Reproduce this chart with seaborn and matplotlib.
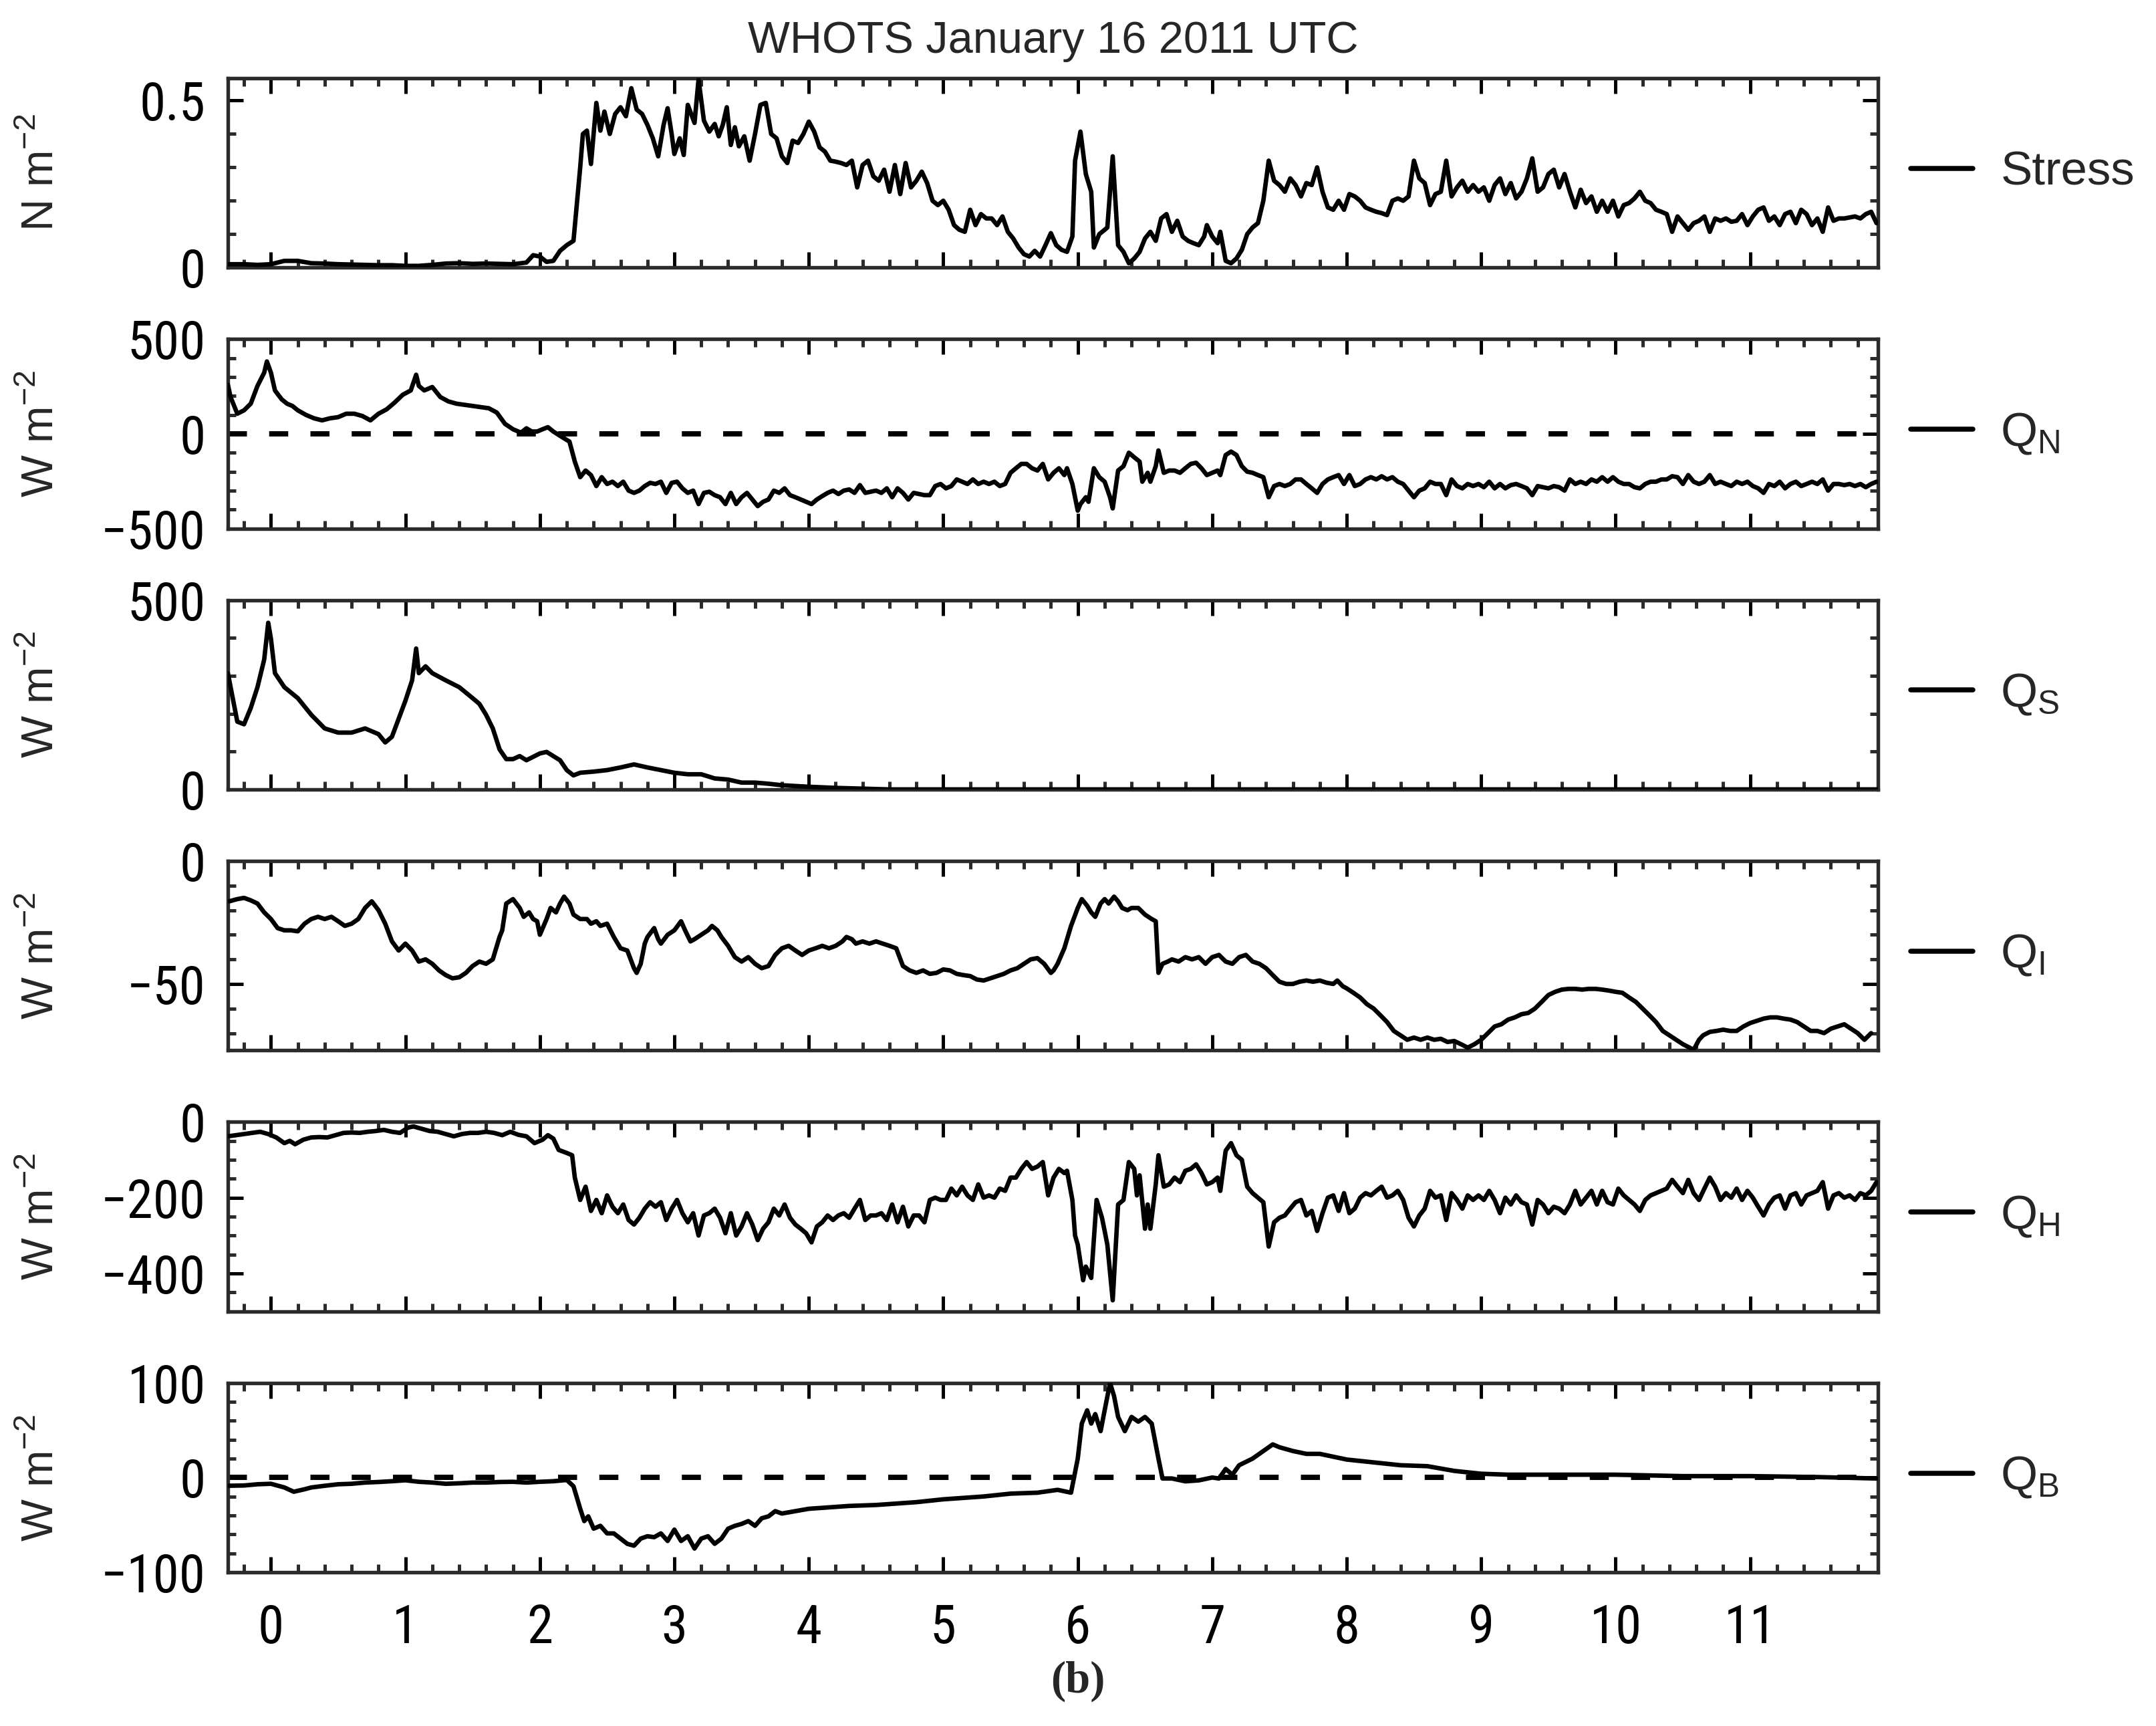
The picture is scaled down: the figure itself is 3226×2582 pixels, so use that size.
import matplotlib
matplotlib.use("Agg")
import matplotlib.pyplot as plt
from matplotlib import font_manager
import seaborn as sns
from matplotlib.ticker import MultipleLocator, FixedLocator

# values, (hour, value)
STRESS = [(-0.32, 0.010), (-0.2, 0.010), (-0.1, 0.008), (0.0, 0.010), (0.1, 0.020), (0.2, 0.020), (0.3, 0.013),
          (0.4, 0.012), (0.5, 0.010), (0.6, 0.009), (0.7, 0.008), (0.8, 0.007), (0.9, 0.007), (1.0, 0.005),
          (1.1, 0.005), (1.2, 0.008), (1.3, 0.012), (1.4, 0.013), (1.5, 0.011), (1.6, 0.012), (1.7, 0.011),
          (1.8, 0.010), (1.9, 0.015), (1.95, 0.037), (2.0, 0.033), (2.05, 0.017), (2.1, 0.020), (2.15, 0.050),
          (2.2, 0.067), (2.25, 0.080), (2.3, 0.300), (2.32, 0.400), (2.35, 0.410), (2.38, 0.310), (2.42, 0.493),
          (2.45, 0.410), (2.48, 0.467), (2.52, 0.400), (2.56, 0.460), (2.6, 0.480), (2.64, 0.453), (2.68, 0.537),
          (2.72, 0.473), (2.76, 0.460), (2.8, 0.427), (2.84, 0.387), (2.88, 0.333), (2.92, 0.427), (2.95, 0.477),
          (2.98, 0.400), (3.0, 0.340), (3.04, 0.387), (3.07, 0.337), (3.1, 0.487), (3.15, 0.433), (3.18, 0.563),
          (3.22, 0.440), (3.26, 0.407), (3.3, 0.430), (3.33, 0.393), (3.36, 0.427), (3.39, 0.480), (3.42, 0.367),
          (3.45, 0.420), (3.48, 0.363), (3.52, 0.393), (3.56, 0.320), (3.6, 0.400), (3.64, 0.487), (3.68, 0.493),
          (3.72, 0.400), (3.76, 0.387), (3.8, 0.333), (3.84, 0.313), (3.88, 0.380), (3.92, 0.373), (3.96, 0.400),
          (4.0, 0.437), (4.04, 0.407), (4.08, 0.360), (4.12, 0.347), (4.16, 0.320), (4.2, 0.317), (4.24, 0.313),
          (4.28, 0.307), (4.32, 0.320), (4.36, 0.240), (4.4, 0.307), (4.44, 0.320), (4.48, 0.273), (4.52, 0.260),
          (4.56, 0.293), (4.6, 0.227), (4.64, 0.307), (4.68, 0.220), (4.72, 0.313), (4.76, 0.240), (4.8, 0.260),
          (4.84, 0.287), (4.88, 0.253), (4.92, 0.200), (4.96, 0.187), (5.0, 0.200), (5.04, 0.173), (5.08, 0.127),
          (5.12, 0.113), (5.16, 0.107), (5.2, 0.173), (5.24, 0.127), (5.28, 0.160), (5.32, 0.147), (5.36, 0.147),
          (5.4, 0.127), (5.44, 0.153), (5.48, 0.107), (5.52, 0.087), (5.56, 0.060), (5.6, 0.040), (5.64, 0.033),
          (5.68, 0.050), (5.72, 0.033), (5.76, 0.067), (5.8, 0.103), (5.84, 0.067), (5.88, 0.053), (5.92, 0.047),
          (5.96, 0.093), (5.98, 0.320), (6.02, 0.407), (6.06, 0.280), (6.1, 0.227), (6.12, 0.060), (6.16, 0.100),
          (6.2, 0.113), (6.22, 0.120), (6.26, 0.333), (6.3, 0.067), (6.34, 0.047), (6.38, 0.013), (6.42, 0.027),
          (6.46, 0.047), (6.5, 0.087), (6.54, 0.107), (6.58, 0.080), (6.62, 0.147), (6.66, 0.160), (6.7, 0.107),
          (6.74, 0.140), (6.78, 0.093), (6.82, 0.080), (6.86, 0.073), (6.9, 0.067), (6.94, 0.093), (6.96, 0.127),
          (7.0, 0.093), (7.04, 0.073), (7.06, 0.107), (7.1, 0.020), (7.14, 0.013), (7.18, 0.027), (7.22, 0.053),
          (7.26, 0.100), (7.3, 0.120), (7.34, 0.133), (7.38, 0.200), (7.42, 0.320), (7.46, 0.260), (7.5, 0.247),
          (7.54, 0.227), (7.58, 0.267), (7.62, 0.247), (7.66, 0.213), (7.7, 0.253), (7.74, 0.247), (7.78, 0.300),
          (7.82, 0.227), (7.86, 0.180), (7.9, 0.173), (7.94, 0.200), (7.98, 0.173), (8.02, 0.220), (8.06, 0.213),
          (8.1, 0.200), (8.14, 0.180), (8.18, 0.173), (8.22, 0.167), (8.26, 0.163), (8.3, 0.157), (8.34, 0.200),
          (8.38, 0.207), (8.42, 0.200), (8.46, 0.213), (8.5, 0.320), (8.54, 0.267), (8.58, 0.253), (8.62, 0.187),
          (8.66, 0.220), (8.7, 0.227), (8.74, 0.320), (8.78, 0.213), (8.82, 0.240), (8.86, 0.260), (8.9, 0.227),
          (8.94, 0.247), (8.98, 0.227), (9.02, 0.240), (9.06, 0.200), (9.1, 0.247), (9.14, 0.267), (9.18, 0.220),
          (9.22, 0.253), (9.26, 0.207), (9.3, 0.227), (9.34, 0.267), (9.38, 0.327), (9.42, 0.227), (9.46, 0.240),
          (9.5, 0.280), (9.54, 0.293), (9.58, 0.240), (9.62, 0.280), (9.66, 0.227), (9.7, 0.180), (9.74, 0.233),
          (9.78, 0.193), (9.82, 0.213), (9.86, 0.167), (9.9, 0.200), (9.94, 0.167), (9.98, 0.200), (10.02, 0.153),
          (10.06, 0.187), (10.1, 0.193), (10.14, 0.207), (10.18, 0.227), (10.22, 0.200), (10.26, 0.193),
          (10.3, 0.173), (10.34, 0.167), (10.38, 0.160), (10.42, 0.107), (10.46, 0.153), (10.5, 0.133),
          (10.54, 0.113), (10.58, 0.133), (10.62, 0.140), (10.66, 0.153), (10.7, 0.107), (10.74, 0.147),
          (10.78, 0.140), (10.82, 0.147), (10.86, 0.137), (10.9, 0.140), (10.94, 0.160), (10.98, 0.127),
          (11.02, 0.153), (11.06, 0.173), (11.1, 0.180), (11.14, 0.140), (11.18, 0.153), (11.22, 0.127),
          (11.26, 0.160), (11.3, 0.167), (11.34, 0.133), (11.38, 0.173), (11.42, 0.160), (11.46, 0.127),
          (11.5, 0.147), (11.54, 0.107), (11.58, 0.180), (11.62, 0.140), (11.66, 0.147), (11.7, 0.147),
          (11.74, 0.150), (11.78, 0.153), (11.82, 0.147), (11.86, 0.160), (11.9, 0.167), (11.94, 0.133)]

QN = [(-0.32, 259), (-0.3, 194), (-0.25, 106), (-0.2, 124), (-0.15, 159), (-0.1, 253), (-0.05, 323), (-0.03, 382),
      (0.0, 323), (0.03, 229), (0.08, 182), (0.12, 159), (0.16, 147), (0.2, 124), (0.26, 100), (0.32, 82),
      (0.38, 71), (0.44, 82), (0.5, 88), (0.56, 106), (0.62, 106), (0.68, 94), (0.74, 71), (0.8, 106), (0.86, 129),
      (0.92, 165), (0.98, 206), (1.04, 229), (1.08, 312), (1.1, 253), (1.14, 229), (1.2, 247), (1.26, 194),
      (1.32, 171), (1.38, 159), (1.44, 153), (1.5, 147), (1.56, 141), (1.62, 135), (1.68, 112), (1.74, 53),
      (1.8, 24), (1.86, 6), (1.9, 29), (1.94, 12), (1.98, 12), (2.02, 24), (2.06, 35), (2.1, 12), (2.14, -6),
      (2.18, -24), (2.22, -41), (2.26, -147), (2.3, -229), (2.34, -194), (2.38, -218), (2.42, -276), (2.46, -229),
      (2.5, -265), (2.54, -253), (2.58, -276), (2.62, -253), (2.66, -300), (2.7, -312), (2.74, -300), (2.78, -276),
      (2.82, -259), (2.86, -265), (2.9, -253), (2.94, -312), (2.98, -259), (3.02, -253), (3.06, -288), (3.1, -312),
      (3.14, -300), (3.18, -371), (3.22, -312), (3.26, -306), (3.3, -324), (3.34, -335), (3.38, -371), (3.42, -312),
      (3.46, -371), (3.5, -335), (3.54, -312), (3.58, -347), (3.62, -382), (3.66, -359), (3.7, -347), (3.74, -300),
      (3.78, -312), (3.82, -288), (3.86, -324), (3.9, -335), (3.94, -347), (3.98, -359), (4.02, -371), (4.06, -347),
      (4.1, -329), (4.14, -312), (4.18, -300), (4.22, -318), (4.26, -300), (4.3, -294), (4.34, -312), (4.38, -271),
      (4.42, -312), (4.46, -306), (4.5, -300), (4.54, -312), (4.58, -288), (4.62, -335), (4.66, -288), (4.7, -312),
      (4.74, -347), (4.78, -312), (4.82, -318), (4.86, -324), (4.9, -324), (4.94, -276), (4.98, -265), (5.02, -288),
      (5.06, -276), (5.1, -241), (5.14, -253), (5.18, -265), (5.22, -241), (5.26, -265), (5.3, -253), (5.34, -265),
      (5.38, -253), (5.42, -276), (5.46, -265), (5.5, -206), (5.54, -182), (5.58, -159), (5.62, -159), (5.66, -182),
      (5.7, -194), (5.74, -159), (5.78, -241), (5.82, -206), (5.86, -182), (5.9, -218), (5.92, -182), (5.96, -265),
      (5.98, -335), (6.0, -406), (6.02, -371), (6.06, -335), (6.08, -359), (6.12, -182), (6.16, -229), (6.2, -253),
      (6.24, -335), (6.26, -394), (6.3, -194), (6.34, -171), (6.38, -100), (6.42, -124), (6.46, -147), (6.48, -253),
      (6.52, -206), (6.54, -253), (6.58, -171), (6.6, -88), (6.64, -206), (6.68, -194), (6.72, -194), (6.76, -206),
      (6.8, -182), (6.84, -159), (6.88, -153), (6.92, -182), (6.96, -218), (7.0, -206), (7.04, -194), (7.06, -218),
      (7.1, -112), (7.14, -94), (7.18, -112), (7.22, -171), (7.26, -200), (7.3, -206), (7.34, -218), (7.38, -229),
      (7.42, -335), (7.46, -276), (7.5, -265), (7.54, -276), (7.58, -265), (7.62, -241), (7.66, -241), (7.7, -265),
      (7.74, -288), (7.78, -312), (7.82, -265), (7.86, -241), (7.9, -229), (7.94, -218), (7.98, -265), (8.02, -218),
      (8.06, -276), (8.1, -265), (8.14, -241), (8.18, -229), (8.22, -241), (8.26, -224), (8.3, -241), (8.34, -229),
      (8.38, -253), (8.42, -265), (8.46, -300), (8.5, -335), (8.54, -300), (8.58, -288), (8.62, -253), (8.66, -265),
      (8.7, -265), (8.74, -324), (8.78, -241), (8.82, -276), (8.86, -288), (8.9, -265), (8.94, -276), (8.98, -265),
      (9.02, -282), (9.06, -253), (9.1, -288), (9.14, -265), (9.18, -288), (9.22, -271), (9.26, -265), (9.3, -276),
      (9.34, -288), (9.38, -324), (9.42, -276), (9.46, -282), (9.5, -288), (9.54, -276), (9.58, -282), (9.62, -300),
      (9.66, -241), (9.7, -265), (9.74, -253), (9.78, -265), (9.82, -241), (9.86, -253), (9.9, -229), (9.94, -253),
      (9.98, -229), (10.02, -253), (10.06, -265), (10.1, -265), (10.14, -282), (10.18, -288), (10.22, -265),
      (10.26, -253), (10.3, -253), (10.34, -241), (10.38, -241), (10.42, -224), (10.46, -229), (10.5, -265),
      (10.54, -218), (10.58, -253), (10.62, -265), (10.66, -253), (10.7, -218), (10.74, -265), (10.78, -253),
      (10.82, -265), (10.86, -276), (10.9, -253), (10.94, -265), (10.98, -253), (11.02, -276), (11.06, -288),
      (11.1, -312), (11.14, -265), (11.18, -276), (11.22, -253), (11.26, -288), (11.3, -265), (11.34, -253),
      (11.38, -276), (11.42, -265), (11.46, -253), (11.5, -265), (11.54, -241), (11.58, -300), (11.62, -265),
      (11.66, -265), (11.7, -271), (11.74, -265), (11.78, -276), (11.82, -265), (11.86, -282), (11.9, -265),
      (11.94, -253)]

QS = [(-0.32, 307), (-0.25, 179), (-0.2, 172), (-0.15, 215), (-0.1, 270), (-0.05, 343), (-0.02, 440), (0.0, 398),
      (0.03, 307), (0.1, 270), (0.2, 241), (0.3, 197), (0.4, 161), (0.5, 150), (0.6, 150), (0.7, 161), (0.8, 146),
      (0.85, 124), (0.9, 139), (1.0, 234), (1.05, 288), (1.08, 372), (1.1, 307), (1.15, 325), (1.2, 307),
      (1.3, 288), (1.4, 270), (1.5, 241), (1.55, 226), (1.6, 197), (1.65, 161), (1.7, 106), (1.75, 80), (1.8, 80),
      (1.85, 88), (1.9, 77), (2.0, 95), (2.05, 99), (2.1, 88), (2.15, 77), (2.2, 51), (2.25, 37), (2.3, 44),
      (2.4, 47), (2.5, 51), (2.6, 58), (2.7, 66), (2.8, 58), (2.9, 51), (3.0, 44), (3.1, 40), (3.2, 40), (3.3, 29),
      (3.4, 26), (3.5, 18), (3.6, 18), (3.7, 15), (3.8, 11), (4.0, 7), (4.2, 4), (4.4, 2), (4.6, 0), (5.0, 0),
      (6.0, 0), (7.0, 0), (8.0, 0), (9.0, 0), (10.0, 0), (11.0, 0), (11.95, 0)]

QI = [(-0.31, -16.4), (-0.25, -15.5), (-0.2, -15.0), (-0.15, -16.0), (-0.1, -17.3), (-0.05, -20.9), (0.0, -23.6),
      (0.05, -27.3), (0.1, -28.2), (0.15, -28.2), (0.2, -28.6), (0.25, -25.5), (0.3, -23.6), (0.35, -22.7),
      (0.4, -23.6), (0.45, -22.7), (0.5, -24.5), (0.55, -26.4), (0.6, -25.5), (0.65, -23.6), (0.7, -19.1),
      (0.75, -16.4), (0.8, -20.0), (0.85, -25.5), (0.9, -32.7), (0.95, -36.4), (1.0, -33.6), (1.05, -36.4),
      (1.1, -40.9), (1.15, -40.0), (1.2, -41.8), (1.25, -44.5), (1.3, -46.4), (1.35, -47.7), (1.4, -47.3),
      (1.45, -45.5), (1.5, -42.7), (1.55, -40.9), (1.6, -41.8), (1.65, -40.0), (1.7, -30.9), (1.72, -28.2),
      (1.75, -17.3), (1.8, -15.5), (1.85, -19.1), (1.88, -22.7), (1.92, -20.9), (1.95, -23.6), (1.98, -24.5),
      (2.0, -30.0), (2.05, -23.6), (2.08, -19.1), (2.12, -20.9), (2.15, -17.3), (2.18, -14.5), (2.22, -17.3),
      (2.25, -21.8), (2.3, -23.6), (2.35, -23.6), (2.38, -25.5), (2.42, -24.5), (2.45, -26.4), (2.5, -25.5),
      (2.55, -30.9), (2.6, -35.5), (2.65, -36.4), (2.7, -43.6), (2.72, -45.5), (2.75, -41.8), (2.78, -33.6),
      (2.8, -30.9), (2.85, -27.3), (2.88, -31.8), (2.9, -33.6), (2.95, -30.0), (3.0, -28.2), (3.05, -24.5),
      (3.08, -28.2), (3.12, -32.7), (3.15, -31.8), (3.2, -30.0), (3.25, -28.2), (3.28, -26.4), (3.32, -28.2),
      (3.35, -30.9), (3.4, -34.5), (3.45, -39.1), (3.5, -40.9), (3.55, -39.1), (3.6, -41.8), (3.65, -43.6),
      (3.7, -42.7), (3.75, -38.2), (3.8, -35.5), (3.85, -34.5), (3.9, -36.4), (3.95, -38.2), (4.0, -36.4),
      (4.05, -35.5), (4.1, -34.5), (4.15, -35.5), (4.2, -34.5), (4.25, -32.7), (4.28, -30.9), (4.32, -31.8),
      (4.35, -33.6), (4.4, -32.7), (4.45, -33.6), (4.5, -32.7), (4.55, -33.6), (4.6, -34.5), (4.65, -35.5),
      (4.7, -42.7), (4.75, -44.5), (4.8, -45.5), (4.85, -44.5), (4.9, -45.9), (4.95, -45.5), (5.0, -44.1),
      (5.05, -44.5), (5.1, -45.9), (5.15, -46.4), (5.2, -46.8), (5.25, -48.2), (5.3, -48.6), (5.35, -47.7),
      (5.4, -46.8), (5.45, -45.9), (5.5, -44.5), (5.55, -43.6), (5.6, -41.8), (5.65, -40.0), (5.7, -39.5),
      (5.75, -41.8), (5.8, -45.5), (5.82, -44.5), (5.85, -41.8), (5.9, -35.5), (5.95, -26.4), (6.0, -19.1),
      (6.03, -15.5), (6.07, -18.2), (6.1, -20.9), (6.13, -22.7), (6.17, -17.3), (6.2, -15.5), (6.23, -17.3),
      (6.27, -14.5), (6.3, -16.4), (6.33, -19.1), (6.37, -20.0), (6.4, -19.1), (6.45, -19.1), (6.5, -21.8),
      (6.55, -23.6), (6.58, -24.5), (6.6, -45.5), (6.63, -41.8), (6.67, -40.9), (6.7, -40.0), (6.75, -40.9),
      (6.8, -39.1), (6.85, -40.0), (6.9, -39.1), (6.95, -41.8), (7.0, -39.1), (7.05, -38.2), (7.1, -40.9),
      (7.15, -41.8), (7.2, -39.1), (7.25, -38.2), (7.3, -40.9), (7.35, -41.8), (7.4, -43.6), (7.45, -46.4),
      (7.5, -49.1), (7.55, -50.0), (7.6, -50.0), (7.65, -49.1), (7.7, -48.6), (7.75, -49.1), (7.8, -48.6),
      (7.85, -49.5), (7.9, -50.0), (7.93, -48.6), (7.97, -50.9), (8.0, -51.8), (8.05, -53.6), (8.1, -55.5),
      (8.15, -58.2), (8.2, -60.0), (8.25, -62.7), (8.3, -65.5), (8.35, -69.1), (8.4, -70.9), (8.45, -72.7),
      (8.5, -71.8), (8.55, -72.7), (8.6, -71.8), (8.65, -72.7), (8.7, -72.3), (8.75, -73.6), (8.8, -73.2),
      (8.85, -74.5), (8.9, -75.9), (8.95, -74.5), (9.0, -72.7), (9.05, -70.0), (9.1, -67.3), (9.15, -66.4),
      (9.2, -64.5), (9.25, -63.6), (9.3, -62.3), (9.35, -61.8), (9.4, -60.0), (9.45, -57.3), (9.5, -54.5),
      (9.55, -53.2), (9.6, -52.3), (9.65, -52.0), (9.7, -52.0), (9.75, -52.3), (9.8, -52.0), (9.85, -52.0),
      (9.9, -52.3), (9.95, -52.7), (10.0, -53.2), (10.05, -53.6), (10.1, -55.5), (10.15, -57.3), (10.2, -60.0),
      (10.25, -62.7), (10.3, -65.5), (10.35, -69.1), (10.4, -70.9), (10.45, -72.7), (10.5, -74.5), (10.55, -75.9),
      (10.58, -76.8), (10.62, -72.7), (10.65, -70.9), (10.7, -69.5), (10.75, -69.1), (10.8, -68.6), (10.85, -69.1),
      (10.9, -69.1), (10.95, -67.3), (11.0, -65.9), (11.05, -65.0), (11.1, -64.1), (11.15, -63.6), (11.2, -63.6),
      (11.25, -64.1), (11.3, -64.5), (11.35, -65.5), (11.4, -67.3), (11.45, -69.1), (11.5, -69.1), (11.55, -70.0),
      (11.6, -68.2), (11.65, -67.3), (11.7, -66.4), (11.75, -68.2), (11.8, -70.0), (11.85, -72.7), (11.9, -70.0)]

QH = [(-0.32, -38), (-0.26, -35), (-0.2, -32), (-0.14, -29), (-0.08, -26), (-0.02, -32), (0.04, -41), (0.1, -56),
      (0.14, -50), (0.18, -59), (0.24, -47), (0.3, -41), (0.36, -40), (0.42, -41), (0.48, -35), (0.54, -29),
      (0.6, -28), (0.66, -29), (0.72, -26), (0.78, -24), (0.84, -21), (0.9, -26), (0.96, -29), (1.02, -15),
      (1.06, -12), (1.12, -18), (1.18, -24), (1.24, -26), (1.3, -32), (1.36, -38), (1.42, -32), (1.48, -29),
      (1.54, -29), (1.6, -26), (1.66, -29), (1.72, -35), (1.78, -26), (1.84, -34), (1.9, -38), (1.96, -56),
      (2.02, -47), (2.06, -35), (2.1, -44), (2.14, -74), (2.2, -82), (2.24, -88), (2.26, -147), (2.3, -206),
      (2.34, -171), (2.38, -235), (2.42, -206), (2.46, -241), (2.5, -194), (2.54, -224), (2.58, -241), (2.62, -218),
      (2.66, -259), (2.7, -271), (2.74, -253), (2.78, -229), (2.82, -212), (2.86, -224), (2.9, -212), (2.94, -259),
      (2.98, -229), (3.02, -206), (3.06, -241), (3.1, -265), (3.14, -241), (3.18, -300), (3.22, -247), (3.26, -241),
      (3.3, -229), (3.34, -253), (3.38, -294), (3.42, -241), (3.46, -300), (3.5, -276), (3.54, -241), (3.58, -271),
      (3.62, -312), (3.66, -282), (3.7, -265), (3.74, -229), (3.78, -247), (3.82, -218), (3.86, -253), (3.9, -271),
      (3.94, -282), (3.98, -294), (4.02, -318), (4.06, -276), (4.1, -265), (4.14, -247), (4.18, -259), (4.22, -247),
      (4.26, -241), (4.3, -253), (4.34, -229), (4.38, -206), (4.42, -259), (4.46, -247), (4.5, -247), (4.54, -241),
      (4.58, -259), (4.62, -218), (4.66, -265), (4.7, -224), (4.74, -276), (4.78, -247), (4.82, -247), (4.86, -265),
      (4.9, -206), (4.94, -200), (4.98, -206), (5.02, -206), (5.06, -176), (5.1, -194), (5.14, -171), (5.18, -194),
      (5.22, -206), (5.26, -165), (5.3, -200), (5.34, -194), (5.38, -200), (5.42, -176), (5.46, -182), (5.5, -147),
      (5.54, -147), (5.58, -124), (5.62, -106), (5.66, -124), (5.7, -118), (5.74, -106), (5.78, -194), (5.82, -147),
      (5.86, -124), (5.9, -135), (5.92, -129), (5.96, -206), (5.98, -300), (6.0, -324), (6.04, -418), (6.06, -382),
      (6.1, -412), (6.14, -206), (6.18, -253), (6.2, -288), (6.22, -324), (6.26, -471), (6.3, -218), (6.34, -206),
      (6.38, -106), (6.42, -124), (6.44, -194), (6.46, -141), (6.5, -282), (6.52, -218), (6.54, -282), (6.58, -165),
      (6.6, -88), (6.64, -171), (6.68, -165), (6.72, -147), (6.76, -159), (6.8, -129), (6.84, -124), (6.88, -112),
      (6.92, -135), (6.96, -165), (7.0, -159), (7.04, -147), (7.06, -182), (7.1, -76), (7.14, -56), (7.18, -88),
      (7.22, -100), (7.26, -171), (7.3, -188), (7.34, -200), (7.38, -212), (7.42, -329), (7.46, -265), (7.5, -253),
      (7.54, -247), (7.58, -229), (7.62, -212), (7.66, -206), (7.7, -247), (7.74, -235), (7.78, -288), (7.82, -241),
      (7.86, -200), (7.9, -194), (7.94, -235), (7.98, -188), (8.02, -241), (8.06, -229), (8.1, -200), (8.14, -188),
      (8.18, -194), (8.22, -182), (8.26, -171), (8.3, -200), (8.34, -194), (8.38, -182), (8.42, -206), (8.46, -253),
      (8.5, -276), (8.54, -247), (8.58, -229), (8.62, -182), (8.66, -200), (8.7, -194), (8.74, -259), (8.78, -188),
      (8.82, -206), (8.86, -229), (8.9, -194), (8.94, -206), (8.98, -194), (9.02, -206), (9.06, -182), (9.1, -206),
      (9.14, -241), (9.18, -200), (9.22, -218), (9.26, -194), (9.3, -212), (9.34, -218), (9.38, -271), (9.42, -206),
      (9.46, -218), (9.5, -241), (9.54, -224), (9.58, -229), (9.62, -241), (9.66, -218), (9.7, -182), (9.74, -218),
      (9.78, -200), (9.82, -182), (9.86, -218), (9.9, -182), (9.94, -212), (9.98, -218), (10.02, -176),
      (10.06, -194), (10.1, -206), (10.14, -218), (10.18, -235), (10.22, -206), (10.26, -194), (10.3, -188),
      (10.34, -182), (10.38, -176), (10.42, -153), (10.46, -171), (10.5, -188), (10.54, -153), (10.58, -188),
      (10.62, -206), (10.66, -176), (10.7, -147), (10.74, -171), (10.78, -206), (10.82, -188), (10.86, -200),
      (10.9, -176), (10.94, -206), (10.98, -182), (11.02, -200), (11.06, -224), (11.1, -247), (11.14, -218),
      (11.18, -200), (11.22, -194), (11.26, -229), (11.3, -194), (11.34, -188), (11.38, -218), (11.42, -194),
      (11.46, -188), (11.5, -182), (11.54, -159), (11.58, -229), (11.62, -194), (11.66, -188), (11.7, -200),
      (11.74, -194), (11.78, -206), (11.82, -188), (11.86, -194), (11.9, -182), (11.94, -159)]

QB = [(-0.32, -8.7), (-0.2, -8.4), (-0.1, -7.1), (0.0, -6.6), (0.1, -10.5), (0.17, -15.0), (0.25, -12.4),
      (0.3, -10.5), (0.4, -8.7), (0.5, -7.1), (0.6, -6.6), (0.7, -5.3), (0.8, -4.7), (0.9, -3.9), (1.0, -2.9),
      (1.1, -4.5), (1.2, -5.3), (1.3, -6.6), (1.4, -6.1), (1.5, -5.3), (1.6, -5.3), (1.7, -4.7), (1.8, -4.5),
      (1.9, -5.3), (2.0, -4.5), (2.1, -3.9), (2.2, -2.6), (2.25, -9.2), (2.3, -33.0), (2.33, -46.0), (2.36, -41.0),
      (2.4, -54.0), (2.45, -51.0), (2.5, -59.0), (2.55, -59.0), (2.6, -64.5), (2.65, -70.0), (2.7, -72.0),
      (2.75, -64.5), (2.8, -62.0), (2.85, -63.0), (2.9, -59.0), (2.95, -67.0), (3.0, -55.0), (3.05, -67.0),
      (3.1, -62.0), (3.15, -75.0), (3.2, -64.5), (3.25, -62.0), (3.3, -70.0), (3.35, -64.5), (3.4, -54.0),
      (3.45, -51.0), (3.5, -49.0), (3.55, -46.0), (3.6, -51.0), (3.65, -43.0), (3.7, -41.0), (3.75, -35.5),
      (3.8, -38.0), (4.0, -33.0), (4.3, -30.0), (4.5, -29.0), (4.8, -26.0), (5.0, -23.0), (5.3, -20.0),
      (5.5, -17.0), (5.7, -16.0), (5.85, -13.0), (5.95, -16.0), (6.0, 20.0), (6.03, 57.0), (6.07, 71.0),
      (6.1, 57.0), (6.13, 67.0), (6.17, 49.0), (6.2, 71.0), (6.24, 100.0), (6.27, 86.0), (6.3, 64.0),
      (6.35, 49.0), (6.4, 64.0), (6.45, 59.0), (6.5, 64.0), (6.55, 57.0), (6.6, 20.0), (6.63, -1.0), (6.7, -1.0),
      (6.8, -4.0), (6.9, -3.0), (7.0, 0.0), (7.05, -1.0), (7.1, 9.0), (7.15, 3.0), (7.2, 13.0), (7.3, 20.0),
      (7.4, 30.0), (7.45, 35.0), (7.5, 32.0), (7.6, 28.0), (7.7, 25.0), (7.8, 25.0), (7.9, 22.0), (8.0, 19.0),
      (8.2, 16.0), (8.4, 13.0), (8.6, 12.0), (8.8, 7.0), (9.0, 4.0), (9.2, 3.0), (9.5, 3.0), (10.0, 3.0),
      (10.5, 1.5), (11.0, 1.5), (11.5, 0.5), (11.94, -1.0)]

SERIES = [STRESS, QN, QS, QI, QH, QB]
NAMES = ["Stress", r"$\mathregular{Q_N}$", r"$\mathregular{Q_S}$", r"$\mathregular{Q_I}$",
         r"$\mathregular{Q_H}$", r"$\mathregular{Q_B}$"]
UNITS = [r"N m$^{-2}$"] + [r"W m$^{-2}$"] * 5
YLIMS = [(0, 0.567), (-500, 500), (0, 500), (-77, 0), (-500, 0), (-100, 100)]
YTICKS = [[0, 0.5], [-500, 0, 500], [0, 500], [-50, 0], [-400, -200, 0], [-100, 0, 100]]
YTICKLABELS = [["0", "0.5"], ["\u2212500", "0", "500"], ["0", "500"], ["\u221250", "0"],
               ["\u2212400", "\u2212200", "0"], ["\u2212100", "0", "100"]]
YMINOR = [0.1, 100, 100, 10, 50, 20]
ZERO_LINE = [False, True, False, False, False, True]
HOURS = list(range(0, 12))

sns.set_theme(style="ticks")

# tick labels in the reference use a narrow grotesque; pick a condensed face if one is installed
installed = {(f.name, f.stretch) for f in font_manager.fontManager.ttflist}
names = {n for n, _ in installed}
tick_family, tick_stretch = "Liberation Sans", "normal"
for cand in ["Liberation Sans Narrow", "Roboto Condensed", "Open Sans Condensed"]:
    if cand in names:
        tick_family = cand
        break
else:
    if ("DejaVu Sans", "condensed") in installed or ("DejaVu Sans", 700) in installed:
        tick_family, tick_stretch = "DejaVu Sans", "condensed"

plt.rcParams["font.family"] = [tick_family, "Liberation Sans", "DejaVu Sans"]
plt.rcParams["font.stretch"] = tick_stretch
plt.rcParams["mathtext.fontset"] = "custom"
plt.rcParams["mathtext.rm"] = "Liberation Sans"
plt.rcParams["axes.unicode_minus"] = True

EDGE = "#2b2b2b"
tick_size = 19 if tick_family != "Liberation Sans" else 16.5

fig, axes = plt.subplots(6, 1, figsize=(3226 / 300, 2582 / 300), dpi=300, sharex=True)
fig.subplots_adjust(left=0.1057, right=0.871, top=0.9547, bottom=0.0891, hspace=0.378)

for i, ax in enumerate(axes):
    t = [p[0] for p in SERIES[i]]
    v = [p[1] for p in SERIES[i]]
    if ZERO_LINE[i]:
        ax.axhline(0, color="black", lw=1.9, ls=(0, (3.6, 4.2)), zorder=1)
    sns.lineplot(x=t, y=v, ax=ax, color="black", linewidth=1.6, estimator=None,
                 sort=False, label=NAMES[i], zorder=3)

    ax.set_xlim(-0.32, 11.95)
    ax.set_ylim(*YLIMS[i])
    ax.xaxis.set_major_locator(FixedLocator(HOURS))
    ax.xaxis.set_minor_locator(MultipleLocator(0.2))
    ax.yaxis.set_major_locator(FixedLocator(YTICKS[i]))
    ax.set_yticklabels(YTICKLABELS[i])
    ax.yaxis.set_minor_locator(MultipleLocator(YMINOR[i]))

    ax.tick_params(which="both", direction="in", top=True, right=True, color=EDGE, width=1.2)
    ax.tick_params(which="major", length=5.6, labelsize=tick_size, colors="black")
    ax.tick_params(which="minor", length=2.8)
    ax.tick_params(axis="x", pad=11)
    ax.tick_params(axis="y", pad=8)
    for s in ax.spines.values():
        s.set_color(EDGE)
        s.set_linewidth(1.3)

    ax.set_ylabel(UNITS[i], fontsize=16, family=["Liberation Sans", "DejaVu Sans"], stretch="normal")
    ax.yaxis.set_label_coords(-0.1, 0.5)

    leg = ax.legend(loc="center left", bbox_to_anchor=(1.0, 0.5), frameon=False,
                    handlelength=1.31, handletextpad=0.58, borderaxespad=0.3,
                    prop={"family": ["Liberation Sans", "DejaVu Sans"], "size": 17, "stretch": "normal"})
    for ln in leg.get_lines():
        ln.set_linewidth(1.8)

fig.text(0.4885, 0.976, "WHOTS January 16 2011 UTC", ha="center", va="center",
         fontsize=16, family=["Liberation Sans", "DejaVu Sans"], stretch="normal")
fig.text(0.5, 0.026, "(b)", ha="center", va="center", fontsize=16, fontweight="bold",
         family=["Liberation Serif", "DejaVu Serif"])

fig.savefig("out.png", dpi=300)
